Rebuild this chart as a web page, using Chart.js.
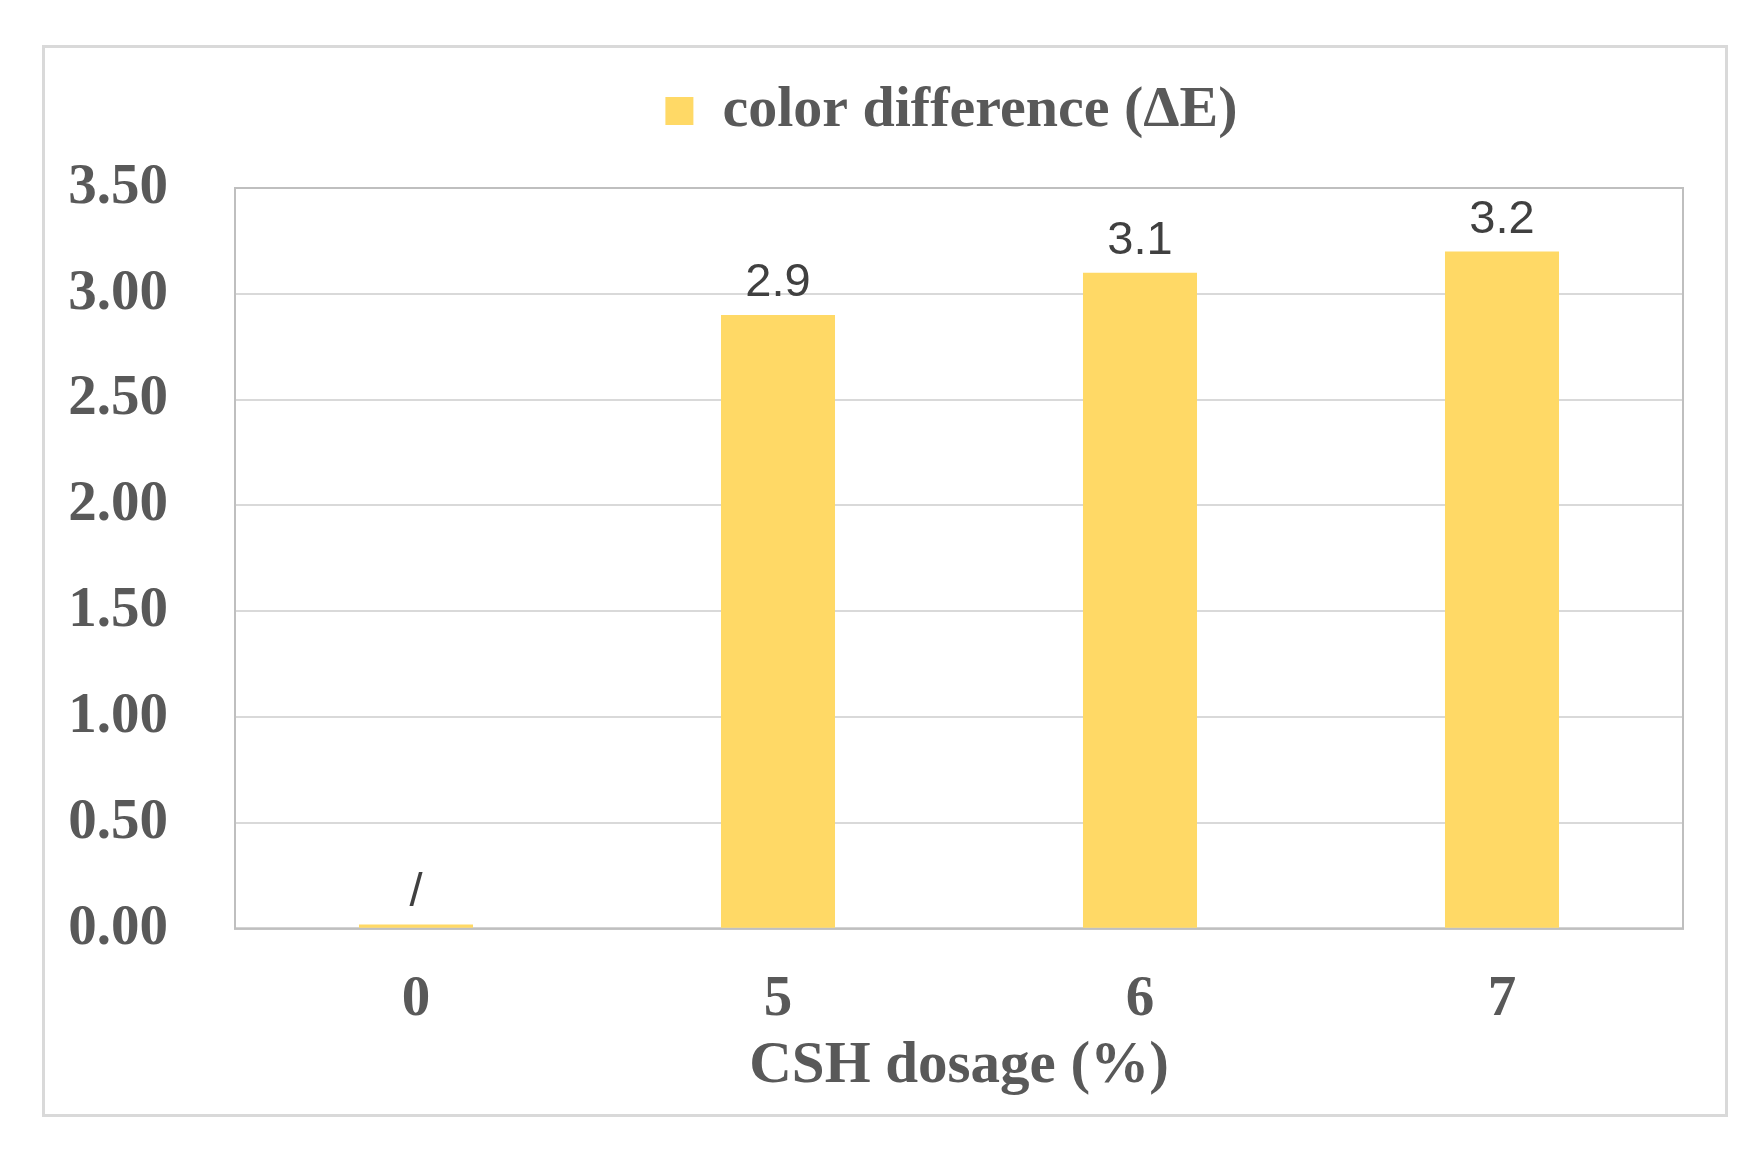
<!DOCTYPE html>
<html>
<head>
<meta charset="utf-8">
<script src="https://cdn.jsdelivr.net/npm/chart.js@4.4.1/dist/chart.umd.min.js"></script>
<style>
  html, body { margin: 0; padding: 0; background: #fff; }
  #frame {
    position: absolute; left: 42px; top: 45px;
    width: 1680px; height: 1066px;
    border: 3px solid #d9d9d9;
  }
  #chart { position: absolute; left: 0; top: 0; }
</style>
</head>
<body>
<div id="frame"></div>
<canvas id="chart" width="1764" height="1164"></canvas>
<script>
const dosages = ["0", "5", "6", "7"];
const deltaE = [0.02, 2.9, 3.1, 3.2];
const valueLabels = ["/", "2.9", "3.1", "3.2"];
const yTicks = [0, 0.5, 1, 1.5, 2, 2.5, 3, 3.5];

const serif = "'Liberation Serif', 'Times New Roman', serif";
const textGray = "#595959";

// border round the plot area, legend nudge, value labels over the bars
const plotBox = {
    id: "plotBox",
    afterLayout(chart) {
        const lg = chart.legend;
        lg.left += 110; lg.right += 110;
        lg.top -= 38; lg.bottom -= 38;
    },
    beforeDatasetsDraw(chart) {
        const a = chart.chartArea;
        const ctx = chart.ctx;
        ctx.save();
        ctx.strokeStyle = "#bfbfbf";
        ctx.lineWidth = 2;
        ctx.strokeRect(a.left, a.top, a.right - a.left, a.bottom - a.top);
        ctx.restore();
    },
    afterDatasetsDraw(chart) {
        const ctx = chart.ctx;
        const meta = chart.getDatasetMeta(0);
        ctx.save();
        ctx.fillStyle = "#404040";
        ctx.font = "47px 'Liberation Sans', Arial, sans-serif";
        ctx.textAlign = "center";
        ctx.textBaseline = "bottom";
        meta.data.forEach((bar, i) => {
            ctx.fillText(valueLabels[i], bar.x, bar.y - 8);
        });
        ctx.restore();
    }
};

new Chart(document.getElementById("chart"), {
    type: "bar",
    data: {
        labels: dosages,
        datasets: [{
            label: "color difference (\u0394E)",
            data: deltaE,
            backgroundColor: "#ffd966",
            borderWidth: 0,
            categoryPercentage: 1,
            barPercentage: 0.315
        }]
    },
    options: {
        responsive: false,
        maintainAspectRatio: false,
        animation: false,
        devicePixelRatio: 1,
        layout: { padding: { left: 0, right: 81, top: 96, bottom: 62 } },
        plugins: {
            legend: {
                position: "top",
                labels: {
                    color: textGray,
                    font: { family: serif, size: 58, weight: "bold" },
                    boxWidth: 28,
                    boxHeight: 28,
                    padding: 24
                }
            },
            tooltip: { enabled: false }
        },
        scales: {
            x: {
                grid: { display: false, drawTicks: false },
                border: { color: "#d9d9d9", width: 3 },
                ticks: {
                    color: textGray,
                    padding: 37,
                    font: { family: serif, size: 57, weight: "bold" }
                },
                title: {
                    display: true,
                    text: "CSH dosage (%)",
                    color: textGray,
                    padding: { top: -40, bottom: 0 },
                    font: { family: serif, size: 59, weight: "bold" }
                }
            },
            y: {
                min: 0,
                max: 3.5,
                afterBuildTicks(scale) {
                    scale.ticks = yTicks.map(v => ({ value: v }));
                },
                afterFit(scale) {
                    scale.width = 235;
                },
                grid: { color: "#d9d9d9", lineWidth: 2, drawTicks: false },
                border: { display: false },
                ticks: {
                    autoSkip: false,
                    color: textGray,
                    padding: 67,
                    font: { family: serif, size: 57, weight: "bold" },
                    callback: v => Number(v).toFixed(2)
                }
            }
        }
    },
    plugins: [plotBox]
});
</script>
</body>
</html>
